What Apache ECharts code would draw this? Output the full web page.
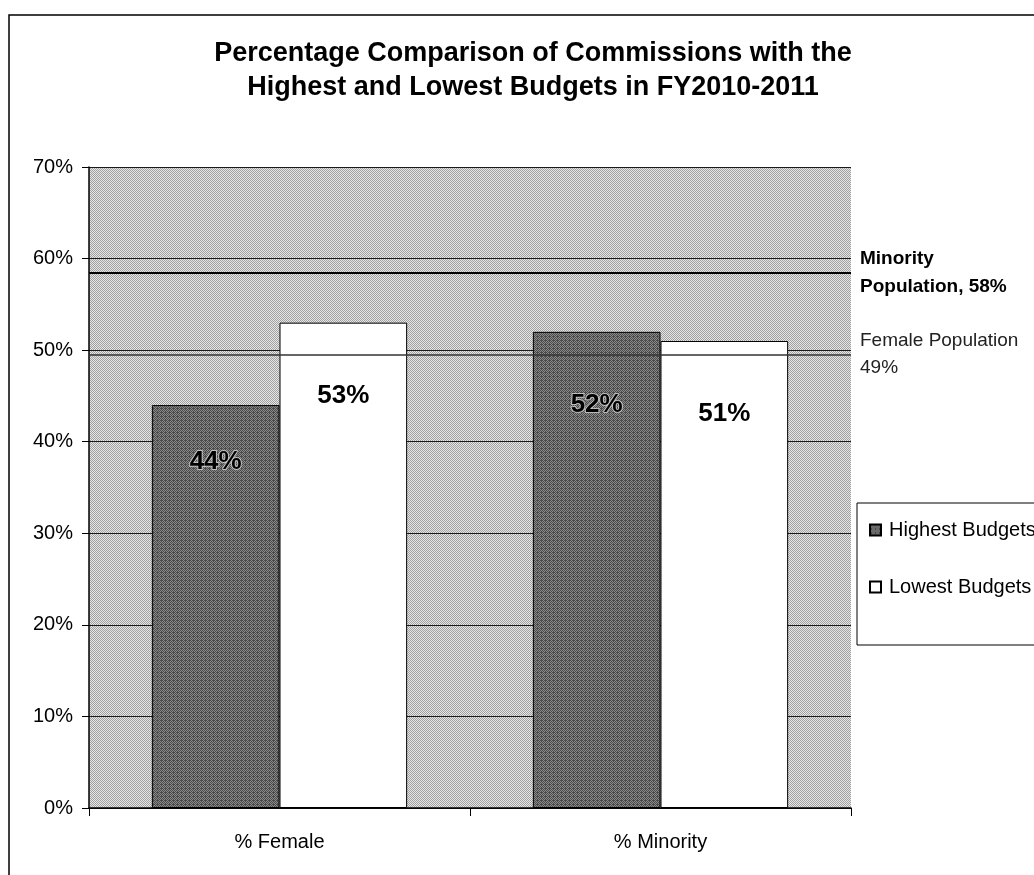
<!DOCTYPE html>
<html>
<head>
<meta charset="utf-8">
<title>Commissions budgets chart</title>
<script src="https://cdn.jsdelivr.net/npm/echarts@6/dist/echarts.min.js"></script>
<style>
  html, body { margin: 0; padding: 0; background: #fff; }
  #chart { width: 1034px; height: 875px; }
</style>
</head>
<body>
<div id="chart"></div>
<script>
const categories = ["% Female", "% Minority"];
const highestBudgets = [44, 52];
const lowestBudgets = [53, 51];
const seriesNames = ["Highest Budgets", "Lowest Budgets"];
// reference lines (population shares)
const refValues = [58.5, 49.5];
const refLabels = ["Minority\nPopulation, 58%", "Female Population\n49%"];
const yMin = 0;
const yMax = 70;
const yStep = 10;

const FONT = "'Liberation Sans', Arial, Helvetica, sans-serif";

// ordered dither so the fills look like the stippled print
function stipple(light, dark, level) {
  const bayer = [
    [0, 8, 2, 10],
    [12, 4, 14, 6],
    [3, 11, 1, 9],
    [15, 7, 13, 5],
  ];
  const c = document.createElement("canvas");
  c.width = 4;
  c.height = 4;
  const ctx = c.getContext("2d");
  for (let y = 0; y < 4; y++) {
    for (let x = 0; x < 4; x++) {
      ctx.fillStyle = bayer[y][x] < level * 16 ? dark : light;
      ctx.fillRect(x, y, 1, 1);
    }
  }
  return { image: c, repeat: "repeat" };
}

const plotFill = stipple("#e6e6e6", "#a0a0a0", 0.5);
const darkFill = stipple("#8a8a8a", "#4a4a4a", 0.55);

const myChart = echarts.init(document.getElementById("chart"));

const dataLabel = {
  show: true,
  position: "insideTop",
  distance: 60,
  formatter: "{c}%",
  color: "#000",
  fontFamily: FONT,
  fontSize: 26,
  fontWeight: "bold",
};

// the first dark label sits a little higher in the original
const highestData = highestBudgets.map((v, i) =>
  i === 0 ? { value: v, label: { distance: 44 } } : v
);

const options = {
  animation: false,
  backgroundColor: "#fff",
  title: {
    text: "Percentage Comparison of Commissions with the\nHighest and Lowest Budgets in FY2010-2011",
    left: 533,
    top: 37,
    textAlign: "center",
    padding: 0,
    textStyle: {
      fontFamily: FONT,
      fontSize: 27,
      fontWeight: "bold",
      lineHeight: 34,
      color: "#000",
    },
  },
  legend: {
    orient: "vertical",
    left: 857,
    top: 503,
    padding: [17, 10, 48, 12],
    itemGap: 37,
    itemWidth: 11,
    itemHeight: 11,
    icon: "rect",
    borderColor: "#000",
    borderWidth: 1,
    backgroundColor: "#fff",
    data: seriesNames,
    textStyle: {
      fontFamily: FONT,
      fontSize: 20,
      color: "#000",
      padding: [0, 0, 0, 3],
    },
  },
  grid: {
    left: 89,
    right: 183,
    top: 167,
    bottom: 67,
    show: true,
    backgroundColor: plotFill,
    borderWidth: 0,
  },
  xAxis: {
    type: "category",
    data: categories,
    axisLine: { show: true, lineStyle: { color: "#000", width: 1.5 } },
    axisTick: { show: true, length: 8, lineStyle: { color: "#000" } },
    axisLabel: {
      margin: 24,
      fontFamily: FONT,
      fontSize: 20,
      color: "#000",
    },
  },
  yAxis: {
    type: "value",
    min: yMin,
    max: yMax,
    interval: yStep,
    axisLine: { show: true, lineStyle: { color: "#000", width: 1.5 } },
    axisTick: { show: true, length: 7, lineStyle: { color: "#000" } },
    axisLabel: {
      margin: 16,
      formatter: "{value}%",
      fontFamily: FONT,
      fontSize: 20,
      color: "#000",
    },
    splitLine: { show: true, lineStyle: { color: "#1a1a1a", width: 1 } },
  },
  series: [
    {
      name: seriesNames[0],
      type: "bar",
      data: highestData,
      barGap: "0%",
      barCategoryGap: "33%",
      itemStyle: { color: darkFill, borderColor: "#000", borderWidth: 1 },
      label: Object.assign({}, dataLabel, {
        textBorderColor: "rgba(230,230,230,0.7)",
        textBorderWidth: 2,
      }),
      markLine: {
        silent: true,
        symbol: "none",
        animation: false,
        data: [
          {
            yAxis: refValues[0],
            lineStyle: { color: "#000", width: 2, type: "solid" },
            label: {
              formatter: refLabels[0],
              position: "end",
              distance: 9,
              padding: [14, 0, 0, 0],
              fontFamily: FONT,
              fontSize: 19,
              fontWeight: "bold",
              lineHeight: 28,
              color: "#000",
            },
          },
          {
            yAxis: refValues[1],
            lineStyle: { color: "#333", width: 1.5, type: "solid" },
            label: {
              formatter: refLabels[1],
              position: "end",
              distance: 9,
              padding: [53, 0, 0, 0],
              fontFamily: FONT,
              fontSize: 19,
              lineHeight: 27,
              color: "#222",
            },
          },
        ],
      },
    },
    {
      name: seriesNames[1],
      type: "bar",
      data: lowestBudgets,
      itemStyle: { color: "#fff", borderColor: "#000", borderWidth: 1 },
      label: dataLabel,
    },
  ],
  graphic: [
    {
      type: "rect",
      silent: true,
      shape: { x: 9, y: 15, width: 1100, height: 1000 },
      style: { fill: "none", stroke: "#000", lineWidth: 1.5 },
      z: 100,
    },
  ],
};

myChart.setOption(options);
window.addEventListener("resize", myChart.resize);
</script>
</body>
</html>
